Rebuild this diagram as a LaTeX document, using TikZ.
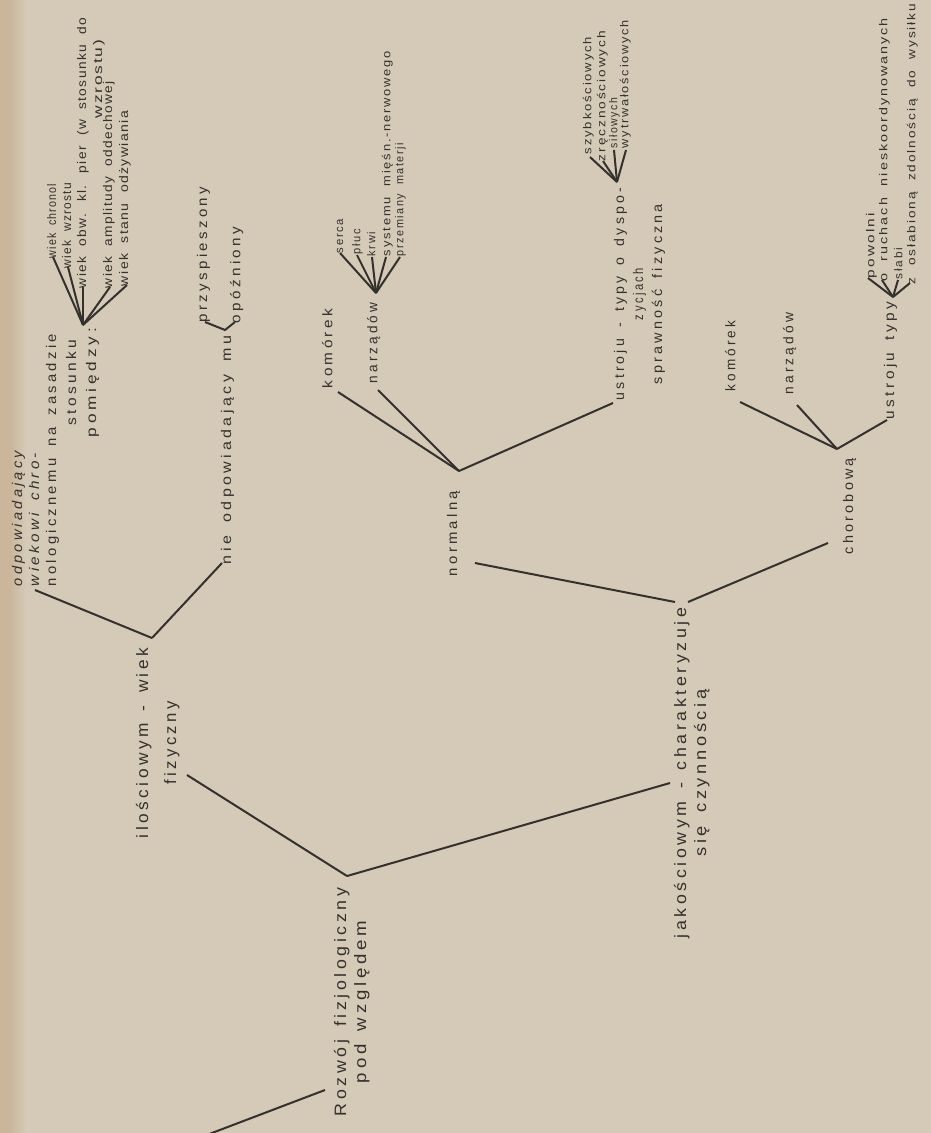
\documentclass[tikz,border=0pt]{standalone}
\usepackage{fontspec}
\usepackage{graphicx}
\setmainfont{Liberation Sans}
\newfontfamily\bigfont[LetterSpace=20,WordSpace=1.5]{Liberation Sans}
\newfontfamily\midfont[LetterSpace=22,WordSpace=1.6]{Liberation Sans}
\newfontfamily\smallfont[LetterSpace=14,WordSpace=2]{Liberation Sans}
\newfontfamily\wiekfont[LetterSpace=10,WordSpace=2]{Liberation Sans}
\definecolor{paper}{HTML}{D5CAB7}
\definecolor{paperedge}{HTML}{CBB69B}
\definecolor{ink}{HTML}{34312D}
\newcommand\fit[2]{\resizebox{#1pt}{\height}{#2}}
\tikzset{
  branch/.style={ink, line width=2pt},
  lbl/.style={rotate=90, anchor=north west, inner sep=0pt, outer sep=0pt, text=ink},
  bigtxt/.style={lbl, font=\bigfont\fontsize{16.5}{20}\selectfont, align=center},
  midtxt/.style={lbl, font=\midfont\fontsize{14}{18}\selectfont, align=center},
  smalltxt/.style={lbl, font=\smallfont\fontsize{11.5}{15}\selectfont, align=left},
  wiektxt/.style={lbl, font=\wiekfont\fontsize{12.5}{16}\selectfont, align=left},
}
\begin{document}
\begin{tikzpicture}[x=1pt, y=-1pt]
  \fill[paper] (0,0) rectangle (931,1133);
  \fill[paperedge] (0,0) rectangle (10,1133);
  \shade[left color=paperedge, right color=paper] (10,0) rectangle (26,1133);
  \useasboundingbox (0,0) rectangle (931,1133);

  % root
  \node[bigtxt] (root) at (334,1116) {\fit{228}{Rozwój fizjologiczny}\\\fit{162}{pod względem}};
  \coordinate (rootIn) at (204,1136);
  \coordinate (rootAt) at (325,1090);
  \coordinate (rootV) at (347,876);
  \draw[branch] (rootIn) -- (rootAt);

  % ilosciowym
  \node[bigtxt] (ilosc) at (136,838) {\fit{190}{ilościowym - wiek}\\[8pt]\fit{83}{fizyczny}};
  \coordinate (iloscAt) at (187,775);
  \coordinate (iloscV) at (152,638);
  \draw[branch] (rootV) -- (iloscAt);

  \node[midtxt, align=left, font=\midfont\fontsize{14}{17}\selectfont] (odpA) at (12,586)
    {\itshape\fit{135}{odpowiadający}\\\itshape\fit{133}{wiekowi chro-}\\\fit{252}{nologicznemu na zasadzie}};
  \node[midtxt, font=\midfont\fontsize{14}{20}\selectfont] (odpB) at (66,437)
    {\fit{86}{stosunku}\\\fit{109}{pomiędzy:}};
  \coordinate (odpAt) at (35,590);
  \coordinate (nieAt) at (222,563);
  \draw[branch] (iloscV) -- (odpAt);
  \draw[branch] (iloscV) -- (nieAt);

  \coordinate (wiekV) at (83,325);
  \coordinate (wA) at (53,257);
  \coordinate (wB) at (68,267);
  \coordinate (wC) at (83,287);
  \coordinate (wD) at (110,287);
  \coordinate (wE) at (127,285);
  \foreach \p in {wA,wB,wC,wD,wE}
    \draw[branch] (wiekV) -- (\p);
  \node[wiektxt] (wiekA) at (47,258) {\fit{74}{wiek chronol}};
  \node[wiektxt] (wiekB) at (62,268) {\fit{85}{wiek wzrostu}};
  \node[wiektxt] (wiekC) at (77,288)
    {\fit{270}{wiek obw. kl. pier (w stosunku do}\\\hspace*{170pt}\fit{78}{wzrostu)}};
  \node[wiektxt] (wiekD) at (103,288) {\fit{207}{wiek amplitudy oddechowej}};
  \node[wiektxt] (wiekE) at (119,286) {\fit{175}{wiek stanu odżywiania}};

  \node[midtxt] (nie) at (221,564) {\fit{228}{nie odpowiadający mu}};
  \coordinate (nieV) at (225,330);
  \coordinate (przAt) at (205,322);
  \coordinate (opoAt) at (235,322);
  \draw[branch] (przAt) -- (nieV) -- (opoAt);
  \node[midtxt] (prz) at (197,322) {\fit{135}{przyspieszony}};
  \node[midtxt] (opo) at (230,323) {\fit{96}{opóźniony}};

  % jakosciowym
  \node[bigtxt] (jako) at (674,938) {\fit{330}{jakościowym - charakteryzuje}\\\fit{167}{się czynnością}};
  \coordinate (jakoAt) at (670,783);
  \coordinate (jakoL) at (675,602);
  \coordinate (jakoR) at (688,602);
  \draw[branch] (rootV) -- (jakoAt);

  % normalna
  \node[midtxt] (norm) at (447,576) {\fit{85}{normalną}};
  \coordinate (normAt) at (475,563);
  \coordinate (normV) at (459,471);
  \draw[branch] (jakoL) -- (normAt);
  \coordinate (komAt) at (338,392);
  \coordinate (narAt) at (378,390);
  \coordinate (ustAt) at (613,403);
  \foreach \p in {komAt,narAt,ustAt}
    \draw[branch] (normV) -- (\p);
  \node[midtxt] (kom) at (322,388) {\fit{79}{komórek}};
  \node[midtxt] (nar) at (367,383) {\fit{80}{narządów}};

  \coordinate (narV) at (376,293);
  \coordinate (nA) at (340,253);
  \coordinate (nB) at (357,255);
  \coordinate (nC) at (372,257);
  \coordinate (nD) at (386,257);
  \coordinate (nE) at (400,257);
  \foreach \p in {nA,nB,nC,nD,nE}
    \draw[branch] (narV) -- (\p);
  \node[smalltxt] (serca) at (337,253) {\fit{34}{serca}};
  \node[smalltxt] (pluc) at (352,254) {\fit{25}{płuc}};
  \node[smalltxt] (krwi) at (367,256) {\fit{24}{krwi}};
  \node[smalltxt] (syst) at (382,256) {\fit{205}{systemu mięśn.-nerwowego}};
  \node[smalltxt] (przem) at (395,256) {\fit{113}{przemiany materji}};

  \node[midtxt, font=\midfont\fontsize{14}{19}\selectfont] (ust) at (614,400)
    {\fit{212}{ustroju - typy o dyspo-}\\\fit{52}{zycjach}\\\fit{180}{sprawność fizyczna}};
  \coordinate (ustV) at (617,182);
  \coordinate (uA) at (590,157);
  \coordinate (uB) at (603,161);
  \coordinate (uC) at (614,150);
  \coordinate (uD) at (626,150);
  \foreach \p in {uA,uB,uC,uD}
    \draw[branch] (ustV) -- (\p);
  \node[smalltxt] (szyb) at (583,154) {\fit{117}{szybkościowych}};
  \node[smalltxt] (zrecz) at (597,161) {\fit{130}{zręcznościowych}};
  \node[smalltxt] (silo) at (609,148) {\fit{50}{siłowych}};
  \node[smalltxt] (wytrw) at (620,148) {\fit{128}{wytrwałościowych}};

  % chorobowa
  \node[midtxt] (chor) at (843,554) {\fit{96}{chorobową}};
  \coordinate (chorAt) at (828,543);
  \coordinate (chorV) at (837,449);
  \draw[branch] (jakoR) -- (chorAt);
  \coordinate (ckomAt) at (740,402);
  \coordinate (cnarAt) at (797,405);
  \coordinate (custAt) at (887,420);
  \foreach \p in {ckomAt,cnarAt,custAt}
    \draw[branch] (chorV) -- (\p);
  \node[midtxt] (ckom) at (725,391) {\fit{70}{komórek}};
  \node[midtxt] (cnar) at (783,394) {\fit{81}{narządów}};
  \node[midtxt] (cust) at (884,419) {\fit{117}{ustroju typy}};

  \coordinate (custV) at (893,297);
  \coordinate (cA) at (868,278);
  \coordinate (cB) at (882,280);
  \coordinate (cC) at (898,280);
  \coordinate (cD) at (910,283);
  \foreach \p in {cA,cB,cC,cD}
    \draw[branch] (custV) -- (\p);
  \node[smalltxt] (powol) at (866,278) {\fit{65}{powolni}};
  \node[smalltxt] (ruch) at (879,281) {\fit{263}{o ruchach nieskoordynowanych}};
  \node[smalltxt] (slabi) at (894,279) {\fit{31}{słabi}};
  \node[smalltxt] (oslab) at (907,284) {\fit{280}{z osłabioną zdolnością do wysiłku}};
\end{tikzpicture}
\end{document}
